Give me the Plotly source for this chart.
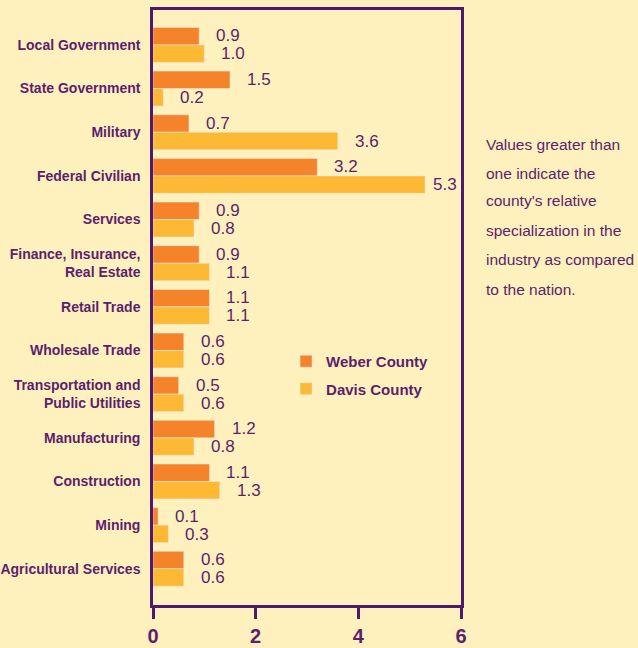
import plotly.graph_objects as go

categories = ["Local Government", "State Government", "Military", "Federal Civilian",
              "Services", "Finance, Insurance,<br>Real Estate", "Retail Trade",
              "Wholesale Trade", "Transportation and<br>Public Utilities", "Manufacturing",
              "Construction", "Mining", "Agricultural Services"]
weber = [0.9, 1.5, 0.7, 3.2, 0.9, 0.9, 1.1, 0.6, 0.5, 1.2, 1.1, 0.1, 0.6]
davis = [1.0, 0.2, 3.6, 5.3, 0.8, 1.1, 1.1, 0.6, 0.6, 0.8, 1.3, 0.3, 0.6]
x_ticks = [0, 2, 4, 6]
note_lines = ["Values greater than", "one indicate the", "county's relative",
              "specialization in the", "industry as compared", "to the nation."]

BG = "#FFF1BD"
PURPLE = "#4E1B6C"
TEXT = "#5B1F6E"
ORANGE = "#F5832A"
YELLOW = "#FDB933"

L, T, B, W, H = 153, 10, 43, 638, 648
PW = 308
XMAX = 6
plot_h = H - T - B

fig = go.Figure()
fig.add_trace(go.Bar(y=categories, x=weber, orientation="h", name="Weber County",
                     marker_color=ORANGE, legendgroup="w"))
fig.add_trace(go.Bar(y=categories, x=davis, orientation="h", name="Davis County",
                     marker_color=YELLOW, legendgroup="d"))


def label_shift(v):
    room = PW - v * PW / XMAX - 30
    return max(4, min(15, room))


ann = []
for c, w, d in zip(categories, weber, davis):
    ann.append(dict(x=w, y=c, text=f"{w:.1f}", showarrow=False, xanchor="left",
                    xshift=label_shift(w), yshift=9,
                    font=dict(size=17, color=TEXT, family="Liberation Sans")))
    ann.append(dict(x=d, y=c, text=f"{d:.1f}", showarrow=False, xanchor="left",
                    xshift=label_shift(d), yshift=-9,
                    font=dict(size=17, color=TEXT, family="Liberation Sans")))

note_y = [145, 173, 201, 230, 259, 289]
for line, py in zip(note_lines, note_y):
    ann.append(dict(xref="paper", yref="paper", x=(484 - L) / PW, y=(H - B - py) / plot_h,
                    text=line, showarrow=False, xanchor="left", yanchor="middle",
                    font=dict(size=15.5, color=TEXT, family="Liberation Sans")))

fig.update_layout(
    width=W, height=H,
    margin=dict(l=L, r=W - L - PW, t=T, b=B, autoexpand=False),
    paper_bgcolor=BG, plot_bgcolor=BG,
    barmode="group", bargap=0.2, bargroupgap=0,
    annotations=ann,
    showlegend=True,
    legend=dict(x=0.432, y=0.437, xanchor="left", yanchor="top", bgcolor="rgba(0,0,0,0)",
                traceorder="grouped", tracegroupgap=5,
                font=dict(size=15, color=TEXT, family="Liberation Sans", weight="bold")),
    xaxis=dict(range=[0, XMAX], tickvals=x_ticks, ticktext=[str(t) for t in x_ticks],
               automargin=False,
               showgrid=False, zeroline=False, showline=True, linecolor=PURPLE, linewidth=2.5,
               mirror=True, ticks="outside", ticklen=11, tickwidth=2.5, tickcolor=PURPLE,
               tickfont=dict(size=20, color=TEXT, family="Liberation Sans", weight="bold")),
    yaxis=dict(categoryorder="array", categoryarray=categories, range=[12.83, -0.8],
               automargin=False,
               showgrid=False, zeroline=False, showline=True, linecolor=PURPLE, linewidth=2.5,
               mirror=True, ticks="", ticklabelstandoff=7,
               tickfont=dict(size=14, color=TEXT, family="Liberation Sans", weight="bold")),
)
fig.write_html("out.html")
